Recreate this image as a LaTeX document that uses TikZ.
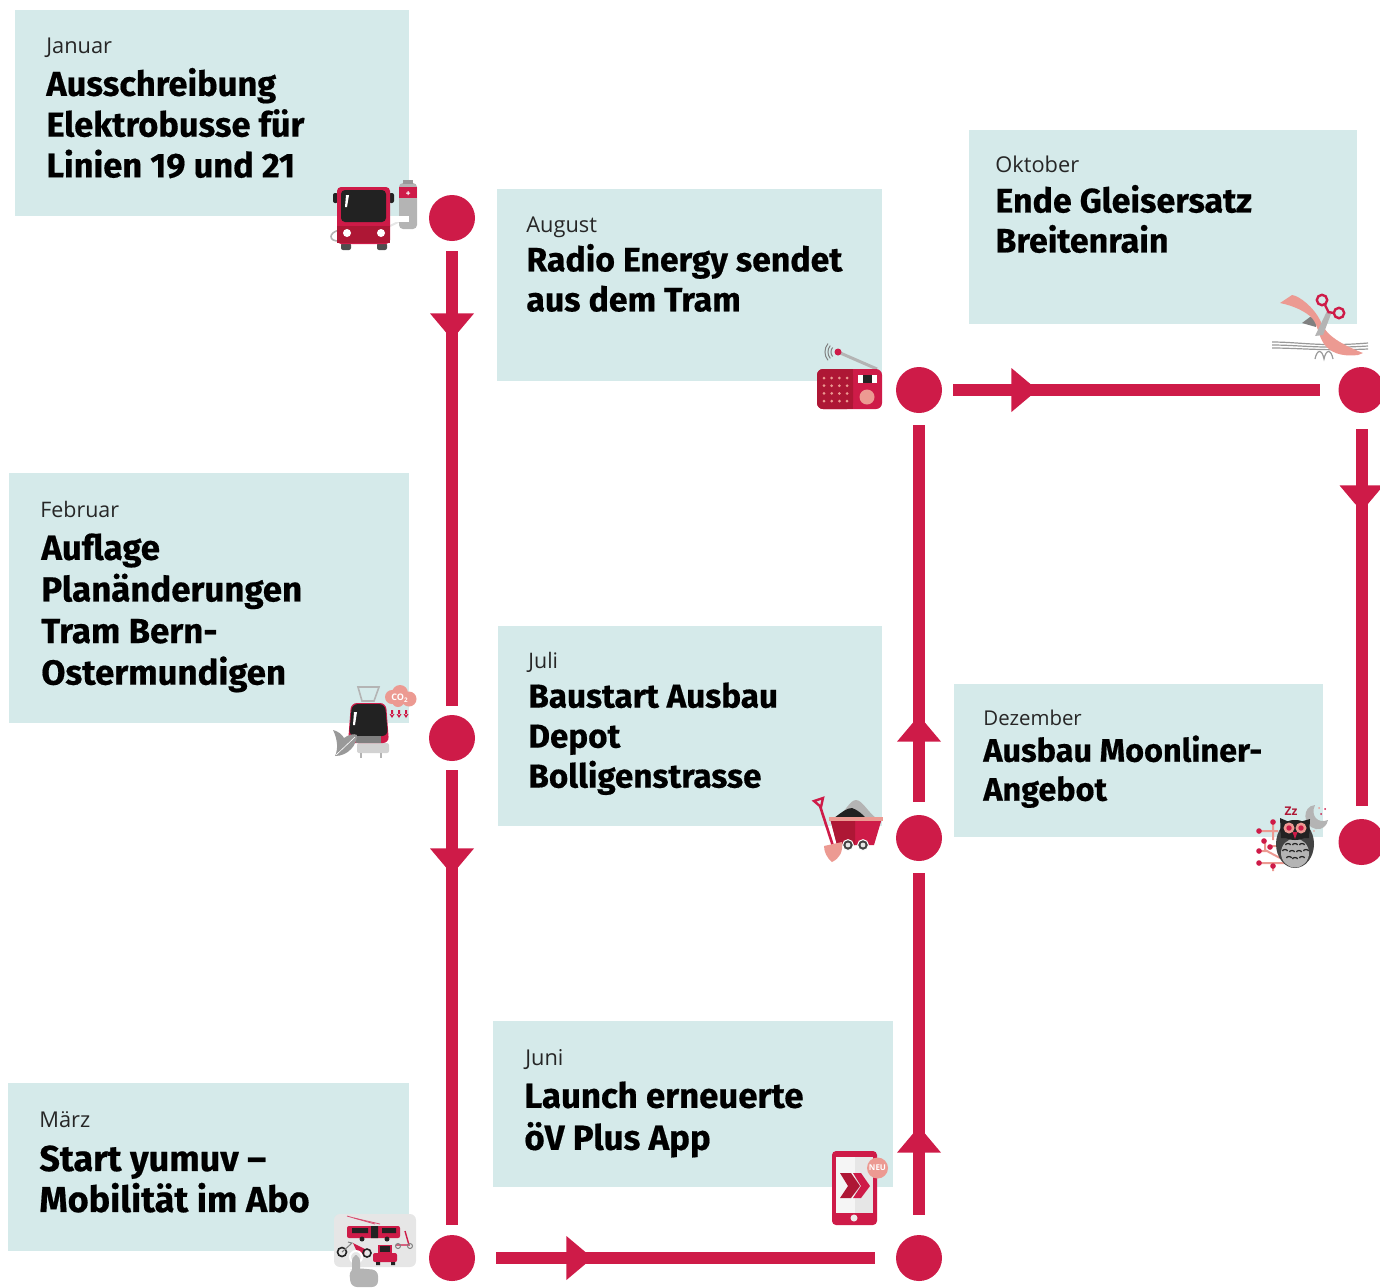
\documentclass[tikz,border=0pt]{standalone}
\usepackage{fontspec}
\usetikzlibrary{decorations.markings}
\setmainfont{Open Sans}
\newfontfamily\tfont[BoldFeatures={FakeBold=0.5}]{Fira Sans}
\definecolor{rd}{HTML}{CE1B48}
\definecolor{drd}{HTML}{AE1735}
\definecolor{box}{HTML}{D5EAEA}
\definecolor{sal}{HTML}{EC9A92}
\definecolor{gr}{HTML}{B4B4B4}
\definecolor{lgr}{HTML}{E6E6E6}
\definecolor{blk}{HTML}{222222}
\tikzset{
 panel/.style={fill=box,draw=none,inner sep=0,anchor=north west},
 month/.style={font=\fontsize{#1}{13}\selectfont,anchor=base west,inner sep=0,text=black!85},
 month/.default=10.9,
 title/.style 2 args={font=\tfont\bfseries\fontsize{#1}{#2}\selectfont,anchor=north west,inner sep=0,align=left,text=black,execute at begin node=\strut},
 stop/.style={circle,fill=rd,draw=none,minimum size=23pt,inner sep=0},
 flow/.style={draw=rd,line width=6pt,postaction={decorate},
   decoration={markings,mark=at position #1 with {\fill[rd] (0,-11pt) -- (9.5pt,-3pt) -- (9.5pt,3pt) -- (0,11pt) -- cycle;}}},
}
\begin{document}
\begin{tikzpicture}[x=0.5pt,y=-0.5pt]
\useasboundingbox (0,0) rectangle (1380,1287);
\clip (0,0) rectangle (1380,1287);
% panels
\node[panel,minimum width=197pt,minimum height=103pt] (pJan) at (15,10) {};
\node[panel,minimum width=200pt,minimum height=125pt] (pFeb) at (9,473) {};
\node[panel,minimum width=200.5pt,minimum height=84pt] (pMar) at (8,1083) {};
\node[panel,minimum width=192.5pt,minimum height=96pt] (pAug) at (497,189) {};
\node[panel,minimum width=192pt,minimum height=100pt] (pJul) at (498,626) {};
\node[panel,minimum width=200pt,minimum height=83pt] (pJun) at (493,1021) {};
\node[panel,minimum width=194pt,minimum height=97pt] (pOkt) at (969,130) {};
\node[panel,minimum width=184.5pt,minimum height=76.5pt] (pDez) at (954,684) {};
% months
\node[month] (mJan) at (46,53) {Januar};
\node[month=10.7] (mFeb) at (40,517) {Februar};
\node[month] (mMar) at (39,1127) {März};
\node[month] (mAug) at (526,232) {August};
\node[month=10.7] (mJul) at (528,668) {Juli};
\node[month] (mJun) at (525,1065) {Juni};
\node[month] (mOkt) at (995,172) {Oktober};
\node[month=10.2] (mDez) at (983,725) {Dezember};
% titles
\node[title={17.2}{20.4}] (tJan) at (46,67.5) {Ausschreibung\\Elektrobusse für\\Linien 19 und 21};
\node[title={17.4}{20.8}] (tFeb) at (41,533) {Auflage\\Planänderungen\\Tram Bern-\\Ostermundigen};
\node[title={18}{20.5}] (tMar) at (39,1145) {Start yumuv –\\Mobilität im Abo};
\node[title={16.9}{20}] (tAug) at (526,243.5) {Radio Energy sendet\\aus dem Tram};
\node[title={16.6}{20}] (tJul) at (528,682) {Baustart Ausbau\\Depot\\Bolligenstrasse};
\node[title={17.4}{21}] (tJun) at (524,1081) {Launch erneuerte\\öV Plus App};
\node[title={17}{20}] (tOkt) at (995,184.5) {Ende Gleisersatz\\Breitenrain};
\node[title={16.2}{19.5}] (tDez) at (983,735) {Ausbau Moonliner-\\Angebot};
% stops
\node[stop] (s1) at (452,218) {};
\node[stop] (s2) at (452,738) {};
\node[stop] (s3) at (452,1258) {};
\node[stop] (s4) at (919,1258) {};
\node[stop] (s5) at (919,838) {};
\node[stop] (s6) at (919,390) {};
\node[stop] (s7) at (1361.5,390) {};
\node[stop] (s8) at (1361.5,842) {};
% connectors
\draw[flow=36pt,shorten <=5pt,shorten >=4.5pt] (s1) -- (s2);
\draw[flow=43.5pt,shorten <=4.5pt,shorten >=5pt] (s2) -- (s3);
\draw[flow=45.5pt,shorten <=10.5pt,shorten >=10.5pt] (s3) -- (s4);
\draw[flow=41pt,shorten <=10pt,shorten >=6pt] (s4) -- (s5);
\draw[flow=36.5pt,shorten <=6.5pt,shorten >=6pt] (s5) -- (s6);
\draw[flow=34.5pt,shorten <=5.5pt,shorten >=9pt] (s6) -- (s7);
\draw[flow=36pt,shorten <=8pt,shorten >=6.5pt] (s7) -- (s8);
% --- bus icon
\draw[gr,line width=.8pt,fill=none] (340,230) .. controls (328,232) and (328,242) .. (340,241);
\draw[lgr,line width=1pt] (390,226) -- (400,221);
\fill[gr,rounded corners=2pt] (399,183) rectangle (417,229);
\fill[rd] (399,187) rectangle (417,198);
\fill[white] (407.5,191) rectangle (408.5,195) (406,192.5) rectangle (410,193.5);
\fill[gray!80] (403,180) rectangle (413,184);
\fill[white] (396,216) rectangle (409,222);
\fill[blk,rounded corners=1pt] (333,193) rectangle (338,203);
\fill[blk,rounded corners=1pt] (389,193) rectangle (394,203);
\fill[blk!80,rounded corners=1pt] (341,243) rectangle (351,250);
\fill[blk!80,rounded corners=1pt] (377,243) rectangle (387,250);
\fill[rd,rounded corners=2pt] (337,187) rectangle (390,244);
\fill[drd] (337,226) rectangle (390,243);
\fill[blk,rounded corners=2pt] (341,190) rectangle (386,222);
\fill[white] (346,195) -- (349,195) -- (347,207) -- (345,207) -- cycle;
\fill[white] (347,233) circle (4);
\fill[white] (381,233) circle (4);
% --- tram icon
\draw[gr,line width=.8pt] (362,701) -- (358,687) -- (379,687) -- (374,701) -- cycle;
\fill[lgr!80!gray,rounded corners=1pt] (357,743) rectangle (389,753);
\draw[gr,line width=.6pt] (361,753) -- (361,758) (381,753) -- (381,758);
\fill[rd,rounded corners=3pt] (351,703) -- (386,703) -- (389,743) -- (348,743) -- cycle;
\fill[blk,rounded corners=3pt] (352,704) -- (385,704) -- (388,736) -- (349,736) -- cycle;
\fill[gray] (356,736) rectangle (381,743);
\fill[white] (354,712) -- (357,712) -- (355,725) -- (353,725) -- cycle;
\fill[gray!80] (333,730) .. controls (340,732) and (342,735) .. (344,738) .. controls (348,735) and (354,733) .. (357,735) .. controls (357,745) and (348,756) .. (335,756) .. controls (338,750) and (338,740) .. (333,730) -- cycle;
\draw[white,line width=.3pt] (336,755) -- (355,737);
\fill[sal] (392,697) circle (7) (400,693) circle (8) (409,699) circle (7.5) (398,701) circle (6);
\node[inner sep=0,text=white,font=\bfseries\fontsize{4.5}{5}\selectfont] (co) at (400,698) {CO\textsubscript{2}};
\foreach \x in {392,399,406}{\fill[rd] (\x-1,710) rectangle (\x+1,715) (\x-2.5,714) -- (\x+2.5,714) -- (\x,718) -- cycle;}
% --- yumuv icon
\fill[lgr,rounded corners=3pt] (334,1214) rectangle (416,1267);
\draw[rd!80,line width=.4pt] (347,1216) -- (375,1224);
\draw[rd!80,line width=.4pt] (354,1218) -- (380,1224);
\fill[rd,rounded corners=1pt] (347,1226) rectangle (400,1238);
\fill[blk] (352,1228) rectangle (368,1233) (371,1226) rectangle (378,1238) (382,1228) rectangle (396,1233);
\fill[blk] (362,1239) circle (2.5) (387,1239) circle (2.5);
\fill[rd] (353,1243) -- (365,1249) -- (364,1255) -- (358,1254) -- cycle;
\draw[blk,line width=.8pt] (342,1252) circle (4.5);
\draw[gray,line width=.5pt] (342,1252) -- (352,1243) -- (348,1242);
\draw[rd,line width=.7pt] (396,1245) -- (409,1245) -- (405,1231);
\draw[gray,line width=.5pt] (398,1246) circle (2.5) (410,1246) circle (2.5);
\fill[rd,rounded corners=1pt] (373,1253) rectangle (397,1262);
\fill[rd] (378,1245) rectangle (392,1253);
\fill[blk] (380,1246) rectangle (390,1252);
\fill[blk] (376,1262) rectangle (380,1265) (391,1262) rectangle (395,1265);
\draw[blk,line width=.8pt] (367,1253) circle (4);
\draw[white,line width=1pt,fill=lgr] (356,1257) circle (6);
\fill[gr,rounded corners=3pt] (352,1255) rectangle (360,1275);
\fill[gr,rounded corners=3pt] (349,1270) -- (356,1268) -- (378,1270) -- (378,1287) -- (351,1287) -- cycle;
% --- radio icon
\draw[gray,line width=.5pt] (832.6,356.5) arc (140:220:7) (830.3,358.4) arc (140:220:10) (828,360.3) arc (140:220:13);
\draw[gr,line width=1.5pt] (838,352) -- (877,369);
\fill[rd] (838,352) circle (3.5);
\fill[rd,rounded corners=3pt] (817,369) rectangle (882,409);
\fill[drd,rounded corners=3pt] (817,369) rectangle (853,409);
\fill[drd] (845,369) rectangle (853,409);
\foreach \i in {0,1,2,3}{\foreach \j in {0,1,2,3}{\fill[sal] (824+7.7*\i,378+7.7*\j) circle (1.5);}}
\fill[white] (858,375) rectangle (877,383);
\fill[blk] (863,375) rectangle (872,383);
\fill[sal] (867,397) circle (7.5);
% --- ribbon + scissors icon
\draw[gray!80,line width=.6pt] (1272,342) .. controls (1300,342) and (1320,347) .. (1368,343);
\draw[gray!80,line width=.6pt] (1272,345) .. controls (1300,345) and (1320,349) .. (1368,346);
\draw[gray!80,line width=.6pt] (1272,348) .. controls (1300,348) and (1320,351) .. (1368,349);
\draw[gray!80,line width=.6pt] (1315,359) .. controls (1317,349) and (1322,349) .. (1324,359) .. controls (1326,349) and (1331,349) .. (1333,359);
\fill[gray] (1302,323) -- (1310,317) -- (1318,318) -- (1316,327) -- cycle;
\fill[sal] (1280,303) -- (1292,295) .. controls (1300,296) and (1314,308) .. (1320,320) .. controls (1324,330) and (1330,340) .. (1363,353) -- (1358,355) .. controls (1340,357) and (1330,352) .. (1324,344) .. controls (1318,335) and (1318,325) .. (1312,318) .. controls (1306,312) and (1295,306) .. (1280,303) -- cycle;
\fill[gr] (1327,311) -- (1331,314) -- (1323,335) -- (1315,336) -- cycle;
\draw[rd,line width=1.2pt] (1322,300) circle (5.2) (1339,313) circle (5.2);
\draw[rd,line width=1.2pt] (1325,305) -- (1329,313) (1334,313) -- (1328,312);
% --- wagon icon
\fill[gr] (837,818) .. controls (845,812) and (850,800) .. (856,800) .. controls (862,800) and (868,812) .. (876,818) -- cycle;
\fill[blk] (834,818) .. controls (842,812) and (847,808) .. (852,808) .. controls (858,810) and (862,814) .. (866,818) -- cycle;
\fill[rd] (830,818) -- (882,818) -- (874,845) -- (837,845) -- cycle;
\fill[drd] (830,818) -- (855,818) -- (855,845) -- (837,845) -- cycle;
\fill[sal] (829,817) rectangle (883,821);
\draw[white,line width=.5pt,fill=blk!85] (848,845) circle (5.4) (863,845) circle (5.4);
\fill[lgr] (848,845) circle (2.4) (863,845) circle (2.4);
\draw[rd,line width=1.3pt] (820,806) -- (833,846);
\draw[rd,line width=1.2pt] (814,801) -- (823,798) -- (821,807) -- cycle;
\fill[sal] (824,846) -- (842,842) .. controls (843,852) and (840,858) .. (832,862) .. controls (827,858) and (824,852) .. (824,846) -- cycle;
% --- owl icon
\draw[sal,line width=1pt] (1259,831) -- (1278,831) (1273,820) -- (1273,840) (1265,840) -- (1265,850) -- (1280,858) (1259,851) -- (1268,851) (1259,863) -- (1295,863) (1273,865) -- (1273,871) (1270,846) -- (1280,846);
\foreach \p in {(1273,822),(1259,831),(1264,841),(1270,847),(1259,851),(1259,863),(1273,866)}{\fill[rd] \p circle (2.8);}
\fill[gr] (1315,805) .. controls (1302,806) and (1302,826) .. (1316,829) .. controls (1322,830) and (1327,826) .. (1328,820) .. controls (1318,824) and (1310,816) .. (1315,805) -- cycle;
\fill[sal] (1319,808) circle (1);
\fill[rd] (1325,809) circle (1) (1321,814) circle (1);
\fill[sal] (1314,831) circle (.8);
\fill[blk!85] (1295,844) ellipse (19 and 24);
\fill[gr] (1295,853) ellipse (14 and 14.5);
\fill[blk] (1280,818) -- (1287,821) -- (1303,821) -- (1310,819) -- (1309,838) -- (1281,838) -- cycle;
\fill[blk] (1295,830) ellipse (15 and 10);
\fill[sal] (1289,828) circle (5.5) (1301,828) circle (5.5);
\fill[rd] (1289,828) circle (2.7) (1301,828) circle (2.7);
\fill[rd] (1292.5,832) -- (1297.5,832) -- (1295,839) -- cycle;
\foreach \x/\y in {1288/845,1295/845,1302/845,1285/851,1292/852,1299/852,1306/851,1289/858,1295/859,1302/858}{\draw[blk,line width=.6pt] (\x-2.5,\y) arc (180:360:2.5 and 1.5);}
\node[inner sep=0,text=drd,font=\bfseries\fontsize{6}{6}\selectfont] (zz) at (1291,811) {Zz};
% --- phone icon
\fill[rd,rounded corners=2pt] (832,1151) rectangle (877,1225);
\fill[lgr] (836,1157) rectangle (873,1213);
\fill[white!92!gray] (836,1157) rectangle (855,1213);
\fill[drd] (840,1173) -- (851,1173) -- (860,1186) -- (851,1198) -- (840,1198) -- (848,1186) -- cycle;
\fill[rd] (853,1173) -- (861,1173) -- (870,1186) -- (861,1198) -- (853,1198) -- (861,1186) -- cycle;
\fill[white!85!gray] (854,1218) circle (3.5);
\fill[sal] (877.5,1168) circle (10.5);
\node[inner sep=0,text=white,font=\bfseries\fontsize{4}{4}\selectfont] (neu) at (877.5,1168) {NEU};
\end{tikzpicture}
\end{document}
